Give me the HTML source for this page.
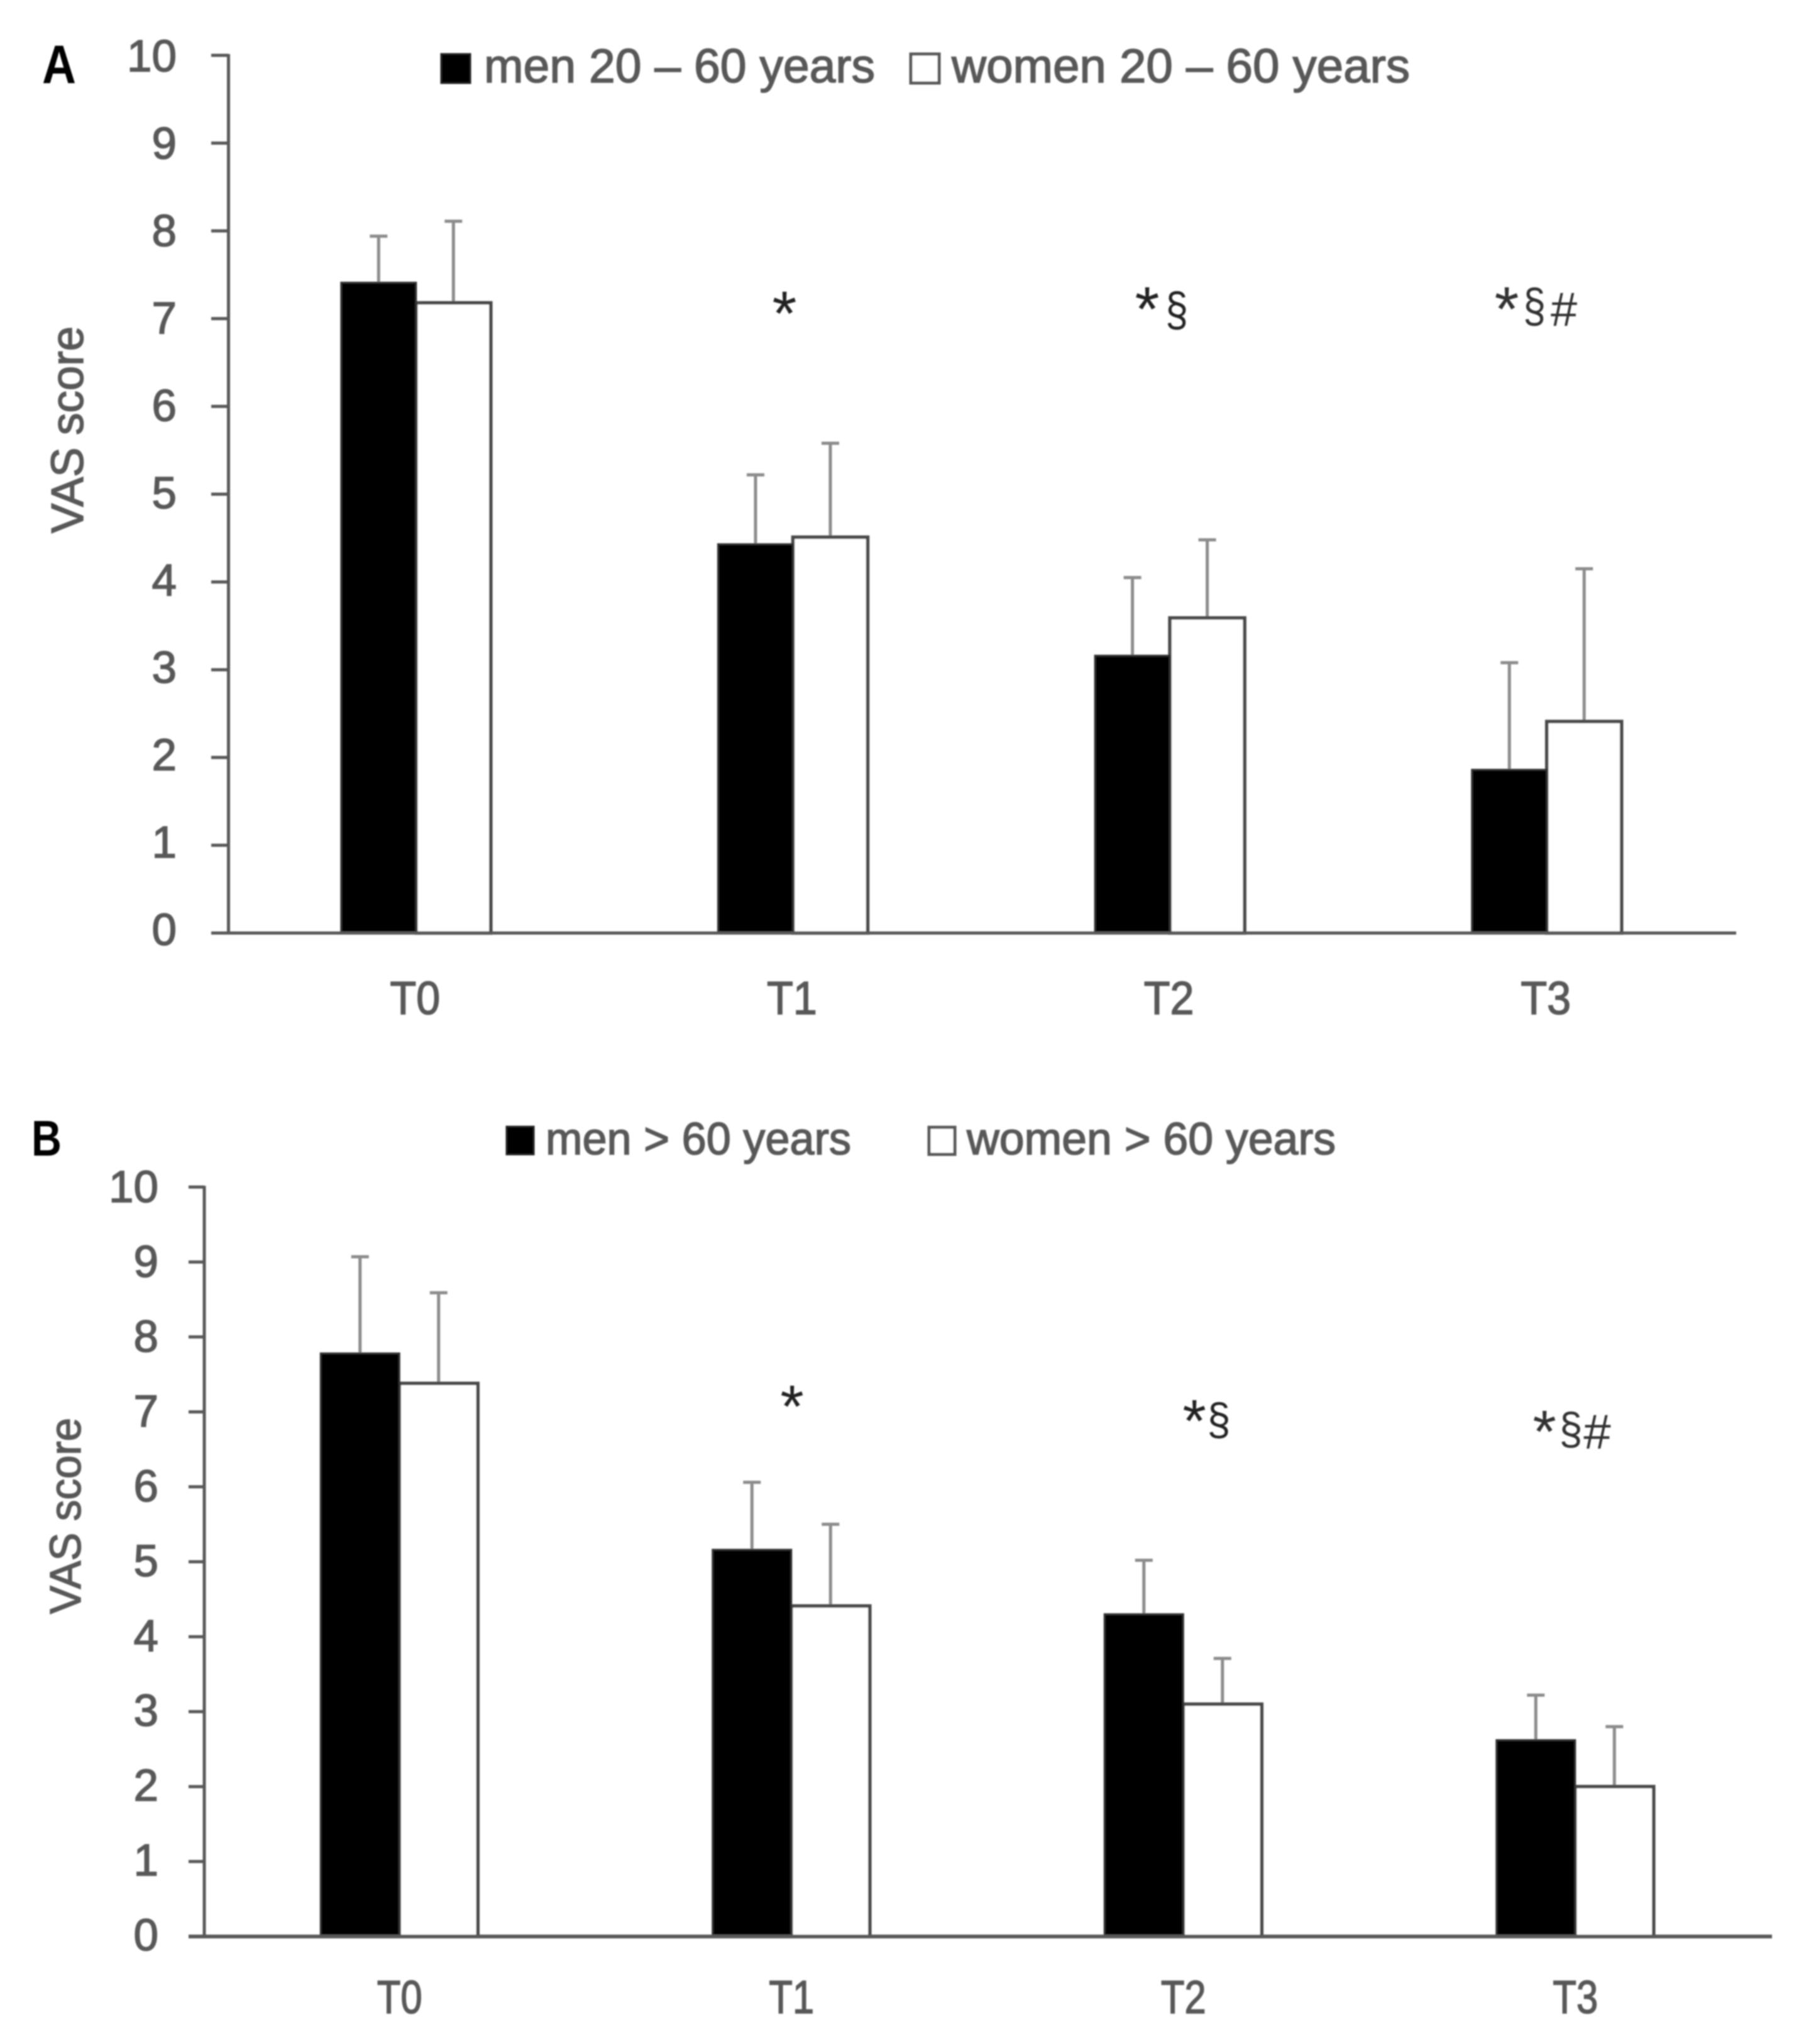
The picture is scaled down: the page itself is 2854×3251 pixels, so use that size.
<!DOCTYPE html>
<html lang="en">
<head>
<meta charset="utf-8">
<title>VAS score by sex and age group</title>
<style>
  html, body { margin: 0; padding: 0; background: #fff; }
  svg { display: block; }
  text { font-family: "Liberation Sans", sans-serif; fill: #595959; stroke: #595959; stroke-width: 1.6px; }
  text.mark { stroke: none; }
</style>
</head>
<body>
<svg id="chart" xmlns="http://www.w3.org/2000/svg" width="2854" height="3251" viewBox="0 0 2854 3251">
  <defs>
    <filter id="soft" x="0" y="0" width="100%" height="100%" filterUnits="userSpaceOnUse" primitiveUnits="userSpaceOnUse">
      <feGaussianBlur stdDeviation="1.1"/>
    </filter>
  </defs>
  <rect x="0" y="0" width="2854" height="3251" fill="#ffffff"/>
  <g id="root" filter="url(#soft)">
    <g id="panel-a">
      <text class="mark" x="67" y="132" font-size="86" font-weight="700" style="fill:#000" textLength="54" lengthAdjust="spacingAndGlyphs">A</text>
      <text transform="translate(132,848) rotate(-90)" font-size="72" textLength="329" lengthAdjust="spacingAndGlyphs">VAS score</text>
      <rect x="702" y="86" width="46" height="46" fill="#000" stroke="#222" stroke-width="3"/>
      <text x="770" y="131" font-size="76" textLength="622" lengthAdjust="spacingAndGlyphs">men 20 – 60 years</text>
      <rect x="1449" y="86" width="45" height="46" fill="#fff" stroke="#595959" stroke-width="5"/>
      <text x="1514" y="131" font-size="76" textLength="729" lengthAdjust="spacingAndGlyphs">women 20 – 60 years</text>
      <g>
        <text class="mark" x="1248" y="533" font-size="100" text-anchor="middle" style="fill:#222">*</text>
      </g>
      <g>
        <text class="mark" x="1825" y="526" font-size="100" text-anchor="middle" style="fill:#222">*</text>
        <text class="mark" x="1872" y="518" font-size="76" text-anchor="middle" style="fill:#222" textLength="36" lengthAdjust="spacingAndGlyphs">§</text>
      </g>
      <g>
        <text class="mark" x="2397" y="526" font-size="100" text-anchor="middle" style="fill:#333">*</text>
        <text class="mark" x="2441" y="512" font-size="76" text-anchor="middle" style="fill:#333" textLength="36" lengthAdjust="spacingAndGlyphs">§</text>
        <text class="mark" x="2488" y="518" font-size="76" text-anchor="middle" style="fill:#333">#</text>
      </g>
    </g>
    <g id="panel-b">
      <text class="mark" x="50" y="1838" font-size="80" font-weight="700" style="fill:#000" textLength="48" lengthAdjust="spacingAndGlyphs">B</text>
      <text transform="translate(128,2567) rotate(-90)" font-size="70" textLength="312" lengthAdjust="spacingAndGlyphs">VAS score</text>
      <rect x="806" y="1792" width="43" height="44" fill="#000" stroke="#222" stroke-width="3"/>
      <text x="868" y="1836" font-size="72" textLength="486" lengthAdjust="spacingAndGlyphs">men &gt; 60 years</text>
      <rect x="1478" y="1793" width="41" height="43" fill="#fff" stroke="#595959" stroke-width="5"/>
      <text x="1538" y="1836" font-size="72" textLength="587" lengthAdjust="spacingAndGlyphs">women &gt; 60 years</text>
      <g>
        <text class="mark" x="1260" y="2270" font-size="96" text-anchor="middle" style="fill:#222">*</text>
      </g>
      <g>
        <text class="mark" x="1900" y="2293" font-size="96" text-anchor="middle" style="fill:#222">*</text>
        <text class="mark" x="1939" y="2282" font-size="71" text-anchor="middle" style="fill:#222" textLength="37" lengthAdjust="spacingAndGlyphs">§</text>
      </g>
      <g>
        <text class="mark" x="2457" y="2310" font-size="96" text-anchor="middle" style="fill:#333">*</text>
        <text class="mark" x="2499" y="2297" font-size="71" text-anchor="middle" style="fill:#333" textLength="37" lengthAdjust="spacingAndGlyphs">§</text>
        <text class="mark" x="2541" y="2304" font-size="78" text-anchor="middle" style="fill:#333">#</text>
      </g>
    </g>
  </g>
</svg>
<script>
const categories = ['T0', 'T1', 'T2', 'T3'];
const yTickLabels = [0, 1, 2, 3, 4, 5, 6, 7, 8, 9, 10];

const menAValues = [7.41, 4.43, 3.16, 1.86];
const womenAValues = [7.18, 4.51, 3.59, 2.41];
const menAErrors = [0.53, 0.79, 0.89, 1.22];
const womenAErrors = [0.93, 1.07, 0.89, 1.74];

const menBValues = [7.78, 5.16, 4.30, 2.62];
const womenBValues = [7.38, 4.41, 3.10, 2.00];
const menBErrors = [1.29, 0.90, 0.72, 0.60];
const womenBErrors = [1.21, 1.09, 0.61, 0.80];

const SVG_NS = 'http://www.w3.org/2000/svg';

function make(tag, attrs, parent) {
  const el = document.createElementNS(SVG_NS, tag);
  for (const k in attrs) el.setAttribute(k, attrs[k]);
  parent.appendChild(el);
  return el;
}

function drawPanel(parent, geo, men, women, menErr, womenErr) {
  const yScale = v => geo.y0 - (v / 10) * (geo.y0 - geo.y10);
  const band = (geo.xEnd - geo.xAxis) / categories.length;
  const xCenter = i => geo.xAxis + band * (i + 0.5) - 1.5;
  const labelY = v => geo.labelY0 + (v / 10) * (geo.labelY10 - geo.labelY0);

  yTickLabels.forEach(v => {
    const tick = make('line', { x1: geo.tickLeft, x2: geo.xAxis, y1: yScale(v), y2: yScale(v), stroke: '#595959', 'stroke-width': 5 }, parent);
    
    
    const label = make('text', { x: geo.labelRight, y: labelY(v) + 25, 'font-size': 71, 'text-anchor': 'end' }, parent);
    label.textContent = String(v);
    
    
  });

  categories.forEach((cat, i) => {
    const cx = xCenter(i);

    const menTop = yScale(men[i] + menErr[i]);
    const menX = cx - geo.barWidth / 2;
    const menStem = make('line', { x1: menX, x2: menX, y1: menTop, y2: yScale(men[i]), stroke: '#8c8c8c', 'stroke-width': 5 }, parent);
    
    
    const menCap = make('line', { x1: menX - 14, x2: menX + 14, y1: menTop, y2: menTop, stroke: '#8c8c8c', 'stroke-width': 5 }, parent);
    
    

    const womenTop = yScale(women[i] + womenErr[i]);
    const womenX = cx + geo.barWidth / 2;
    const womenStem = make('line', { x1: womenX, x2: womenX, y1: womenTop, y2: yScale(women[i]), stroke: '#8c8c8c', 'stroke-width': 5 }, parent);
    
    
    const womenCap = make('line', { x1: womenX - 14, x2: womenX + 14, y1: womenTop, y2: womenTop, stroke: '#8c8c8c', 'stroke-width': 5 }, parent);
    
    

    const whiteBar = make('rect', { x: cx, y: yScale(women[i]), width: geo.barWidth, height: geo.y0 - yScale(women[i]), fill: '#ffffff', stroke: '#484848', 'stroke-width': 5.5 }, parent);
    
    

    const blackBar = make('rect', { x: cx - geo.barWidth, y: yScale(men[i]), width: geo.barWidth, height: geo.y0 - yScale(men[i]), fill: '#000000', stroke: '#333333', 'stroke-width': 3 }, parent);
    
    

    const catLabel = make('text', { x: cx + geo.catOffset - geo.catWidth / 2, y: geo.catBaseline, 'font-size': 74, textLength: geo.catWidth, lengthAdjust: 'spacingAndGlyphs' }, parent);
    catLabel.textContent = cat;
    
    
  });

  const yAxis = make('line', { x1: geo.xAxis, x2: geo.xAxis, y1: geo.y10 - 2, y2: geo.y0 + 2, stroke: '#595959', 'stroke-width': 5 }, parent);
  
  
  const xAxis = make('line', { x1: geo.tickLeft, x2: geo.xEnd, y1: geo.y0, y2: geo.y0, stroke: '#595959', 'stroke-width': geo.axisWidth }, parent);
  
  
}

drawPanel(document.getElementById('panel-a'),
  { y0: 1484, y10: 88, xAxis: 363.5, xEnd: 2762, tickLeft: 336, barWidth: 119, labelRight: 281, labelY0: 1478, labelY10: 88.5, catBaseline: 1613, catWidth: 80, catOffset: -1.5, axisWidth: 5 },
  menAValues, womenAValues, menAErrors, womenAErrors);

drawPanel(document.getElementById('panel-b'),
  { y0: 3080, y10: 1888, xAxis: 325, xEnd: 2819, tickLeft: 300, barWidth: 125, labelRight: 252, labelY0: 3077, labelY10: 1887, catBaseline: 3202, catWidth: 72, catOffset: 0.5, axisWidth: 6 },
  menBValues, womenBValues, menBErrors, womenBErrors);
</script>
</body>
</html>
